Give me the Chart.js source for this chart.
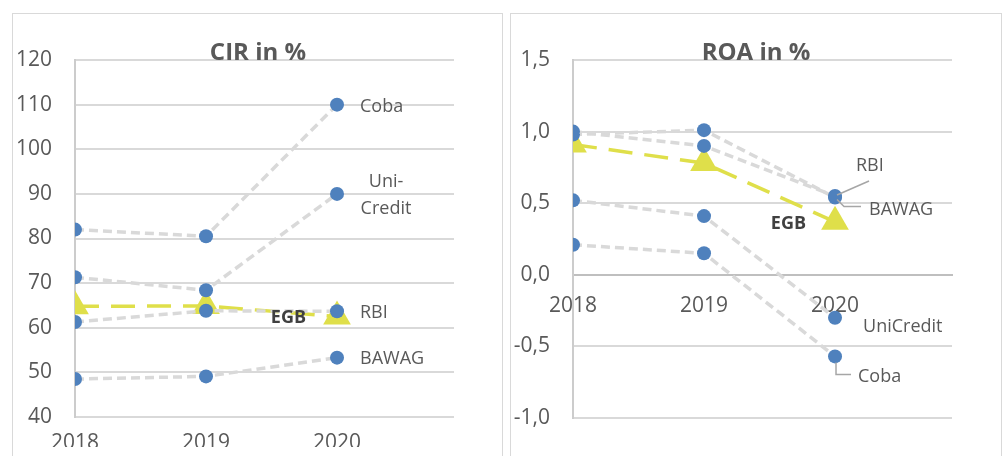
<!DOCTYPE html>
<html lang="de">
<head>
<meta charset="UTF-8">
<title>CIR und ROA</title>
<style>
  body { margin: 0; background: #fff; width: 1006px; height: 456px; overflow: hidden; }
  .panel { position: absolute; top: 13px; height: 470px; border: 1px solid #d9d9d9; box-sizing: border-box; }
  #p1 { left: 12px; width: 491px; }
  #p2 { left: 510px; width: 492px; }
  canvas { position: absolute; left: 0; top: 0; }
</style>
</head>
<body>
<div class="panel" id="p1"><canvas id="cir" width="488" height="458"></canvas></div>
<div class="panel" id="p2"><canvas id="roa" width="488" height="458"></canvas></div>
<script src="https://cdn.jsdelivr.net/npm/chart.js"></script>
<script>
  // values
  const years = ['2018', '2019', '2020']
  const banks = ['Coba', 'UniCredit', 'RBI', 'BAWAG', 'EGB']

  const cirCoba = [82.0, 80.5, 110.0]
  const cirUniCredit = [71.3, 68.4, 90.0]
  const cirRBI = [61.3, 63.8, 63.7]
  const cirBAWAG = [48.5, 49.1, 53.3]
  const cirEGB = [64.8, 64.9, 62.5]
  const cirTicks = [40, 50, 60, 70, 80, 90, 100, 110, 120]

  const roaCoba = [0.21, 0.15, -0.57]
  const roaUniCredit = [0.52, 0.41, -0.30]
  const roaRBI = [1.00, 0.90, 0.55]
  const roaBAWAG = [0.98, 1.01, 0.54]
  const roaEGB = [0.91, 0.78, 0.37]
  const roaTicks = [-1.0, -0.5, 0.0, 0.5, 1.0, 1.5]

  const textColor = '#595959'
  const blue = '#4f81bd'
  const yellow = '#dfdf4a'
  const font = '"Open Sans", sans-serif'

  function toPoints(arr) {
    return arr.map((v, i) => ({ x: i, y: v }))
  }

  function bankSet(name, values) {
    return {
      label: name,
      data: toPoints(values),
      borderColor: '#d9d9d9',
      borderWidth: 3.5,
      borderDash: [9, 5],
      pointRadius: 7,
      pointBackgroundColor: blue,
      pointBorderWidth: 0,
      order: 1
    }
  }

  function egbSet(values) {
    return {
      label: 'EGB',
      data: toPoints(values),
      borderColor: yellow,
      borderWidth: 3.5,
      borderDash: [24, 12],
      pointStyle: 'triangle',
      pointRadius: 16,
      pointBackgroundColor: yellow,
      pointBorderWidth: 0,
      order: 2
    }
  }

  // labels next to the 2020 points, plus title
  const labelPlugin = {
    id: 'labels',
    afterDatasetsDraw(chart, args, opts) {
      const ctx = chart.ctx
      ctx.save()
      ctx.fillStyle = textColor
      ctx.font = 'bold 24px ' + font
      ctx.textAlign = 'center'
      ctx.textBaseline = 'alphabetic'
      ctx.fillText(opts.title, 245, 46)

      opts.items.forEach(item => {
        const pt = chart.getDatasetMeta(item.ds).data[2]
        if (item.leader) {
          ctx.strokeStyle = '#a6a6a6'
          ctx.lineWidth = 1.5
          ctx.beginPath()
          item.leader.forEach((p, k) => {
            if (k === 0) ctx.moveTo(pt.x + p[0], pt.y + p[1])
            else ctx.lineTo(pt.x + p[0], pt.y + p[1])
          })
          ctx.stroke()
        }
        ctx.fillStyle = item.bold ? '#404040' : textColor
        ctx.font = (item.bold ? 'bold ' : '') + '18px ' + font
        ctx.textAlign = item.align || 'left'
        ctx.textBaseline = 'middle'
        const lh = 27
        const lines = item.text
        lines.forEach((t, k) => {
          const off = (k - (lines.length - 1) / 2) * lh
          ctx.fillText(t, pt.x + item.dx, pt.y + item.dy + off)
        })
      })
      ctx.restore()
    }
  }

  function makeChart(id, sets, ticks, fmt, xPos, padBottom, xPad, title, items) {
    return new Chart(document.getElementById(id), {
      type: 'line',
      data: { datasets: sets },
      options: {
        responsive: false,
        animation: false,
        events: [],
        layout: { padding: { top: 46, right: 47, left: 0, bottom: padBottom } },
        plugins: {
          legend: { display: false },
          tooltip: { enabled: false },
          labels: { title: title, items: items }
        },
        scales: {
          x: {
            type: 'linear',
            position: xPos,
            min: 0,
            max: 2.893,
            afterFit(s) { s.height = 30 },
            grid: { display: false, drawTicks: false },
            border: { display: xPos !== 'bottom', color: '#bfbfbf', width: 2 },
            ticks: {
              stepSize: 1,
              padding: xPad,
              autoSkip: false,
              maxRotation: 0,
              color: textColor,
              font: { family: font, size: 21 },
              callback: v => years[v] ?? ''
            }
          },
          y: {
            min: ticks[0],
            max: ticks[ticks.length - 1],
            afterFit(s) { s.width = 62 },
            grid: { color: '#d9d9d9', lineWidth: 2, drawTicks: false },
            border: { color: '#cccccc', width: 2 },
            ticks: {
              stepSize: ticks[1] - ticks[0],
              padding: 23,
              color: textColor,
              font: { family: font, size: 21 },
              callback: fmt
            }
          }
        }
      },
      plugins: [labelPlugin]
    })
  }

  makeChart('cir', [
    bankSet(banks[0], cirCoba),
    bankSet(banks[1], cirUniCredit),
    bankSet(banks[2], cirRBI),
    bankSet(banks[3], cirBAWAG),
    egbSet(cirEGB)
  ], cirTicks, v => String(v), 'bottom', 25, 13, 'CIR in %', [
    { ds: 0, text: ['Coba'], dx: 23, dy: 2 },
    { ds: 1, text: ['Uni-', 'Credit'], dx: 49, dy: 1, align: 'center' },
    { ds: 2, text: ['RBI'], dx: 23, dy: 2 },
    { ds: 3, text: ['BAWAG'], dx: 23, dy: 1 },
    { ds: 4, text: ['EGB'], dx: -31, dy: 1, align: 'right', bold: true }
  ])

  makeChart('roa', [
    bankSet(banks[0], roaCoba),
    bankSet(banks[1], roaUniCredit),
    bankSet(banks[2], roaRBI),
    bankSet(banks[3], roaBAWAG),
    egbSet(roaEGB)
  ], roaTicks, v => v.toFixed(1).replace('.', ','), { y: 0 }, 54, 19, 'ROA in %', [
    { ds: 2, text: ['RBI'], dx: 21, dy: -30, leader: [[2, -1], [34, -15]] },
    { ds: 3, text: ['BAWAG'], dx: 34, dy: 12, leader: [[2, 2], [9, 9], [26, 9]] },
    { ds: 1, text: ['UniCredit'], dx: 28, dy: 9 },
    { ds: 0, text: ['Coba'], dx: 23, dy: 20, leader: [[1, 6], [1, 18], [16, 18]] },
    { ds: 4, text: ['EGB'], dx: -29, dy: 2, align: 'right', bold: true }
  ])
</script>
</body>
</html>
